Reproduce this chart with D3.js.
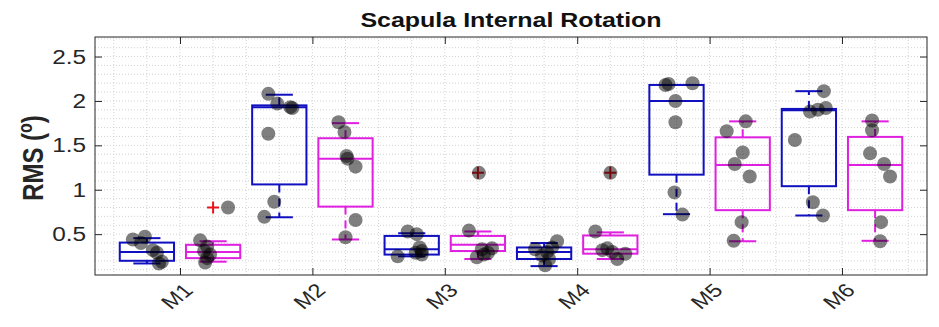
<!DOCTYPE html>
<html><head><meta charset="utf-8">
<script src="https://cdn.jsdelivr.net/npm/d3@7/dist/d3.min.js"></script>
<style>body{margin:0;background:#fff;}svg{display:block;font-family:Arial,"Liberation Sans",sans-serif;}</style>
</head><body><svg id="c" width="939" height="327"></svg>
<script>
const categories = ["M1","M2","M3","M4","M5","M6"];
const yTicks = [0.5, 1, 1.5, 2, 2.5];
const yTickLabels = ["0.5","1","1.5","2","2.5"];
const titleText = "Scapula Internal Rotation";

// Blue series box statistics
const blueQ1  = [0.20, 1.06, 0.27, 0.22, 1.17, 1.04];
const blueMed = [0.30, 1.93, 0.33, 0.30, 2.00, 1.895];
const blueQ3  = [0.405, 1.95, 0.48, 0.35, 2.18, 1.91];
const blueLo  = [0.17, 0.69, 0.25, 0.14, 0.725, 0.71];
const blueHi  = [0.455, 2.07, 0.51, 0.40, 2.18, 2.11];
const blueOut = [null, null, null, null, null, null];

// Magenta series box statistics
const magQ1  = [0.23, 0.81, 0.31, 0.28, 0.77, 0.77];
const magMed = [0.30, 1.35, 0.38, 0.33, 1.28, 1.28];
const magQ3  = [0.38, 1.58, 0.48, 0.485, 1.59, 1.595];
const magLo  = [0.19, 0.44, 0.22, 0.22, 0.42, 0.425];
const magHi  = [0.42, 1.75, 0.53, 0.52, 1.77, 1.77];
const magOut = [0.80, null, 1.19, 1.19, null, null];

// Individual subject values
const bluePts = [
  [0.47, 0.44, 0.40, 0.32, 0.29, 0.19, 0.17],
  [2.08, 1.97, 1.93, 1.92, 1.63, 0.865, 0.695],
  [0.53, 0.50, 0.35, 0.31, 0.29, 0.27, 0.25],
  [0.42, 0.35, 0.33, 0.30, 0.26, 0.22, 0.15],
  [2.20, 2.19, 2.18, 2.00, 1.76, 0.97, 0.72],
  [2.11, 1.92, 1.90, 1.88, 1.56, 0.86, 0.71]
];
const blueJit = [
  [-0.015, -0.106, -0.045, 0.045, 0.076, 0.113, 0.091],
  [-0.083, -0.015, 0.083, 0.098, -0.083, -0.038, -0.113],
  [-0.030, 0.038, 0.060, 0.076, 0.030, 0.076, -0.106],
  [0.098, 0.060, -0.068, 0.023, -0.015, 0.038, 0.008],
  [0.121, -0.060, -0.083, -0.008, -0.008, -0.015, 0.045],
  [0.113, 0.128, 0.068, 0.008, -0.106, 0.030, 0.106]
];
const magPts = [
  [0.80, 0.43, 0.36, 0.31, 0.27, 0.23, 0.18],
  [1.76, 1.65, 1.38, 1.35, 1.26, 0.66, 0.465],
  [1.19, 0.54, 0.34, 0.33, 0.29, 0.27, 0.24],
  [1.19, 0.53, 0.34, 0.32, 0.30, 0.28, 0.22],
  [1.77, 1.66, 1.42, 1.29, 1.15, 0.635, 0.425],
  [1.78, 1.67, 1.41, 1.29, 1.15, 0.635, 0.42]
];
const magJit = [
  [0.113, -0.098, -0.045, -0.068, -0.023, -0.045, -0.060],
  [-0.053, -0.008, 0.008, 0.015, 0.076, 0.076, 0.0],
  [0.008, -0.068, 0.106, 0.030, 0.076, 0.045, -0.008],
  [0.0, -0.113, -0.023, -0.060, 0.015, 0.113, 0.053],
  [0.023, -0.121, 0.0, -0.060, 0.053, -0.008, -0.068],
  [-0.023, -0.023, -0.038, 0.068, 0.113, 0.045, 0.038]
];

const W = 939, H = 327;
const m = {l:95, r:927, t:37, b:275};
const SX = 1.25; // horizontal stretch of the original figure's text
const svg = d3.select("#c");
const x = d3.scaleLinear().domain([0.358, 6.642]).range([m.l, m.r]);
const y = d3.scaleLinear().domain([0.04, 2.72]).range([m.b, m.t]);
const axisCol = "#262626";

// grid
const g = svg.append("g");
const xMinor = d3.range(0.5, 6.6, 0.25);
const yMinor = d3.range(0.1, 2.71, 0.1);
g.selectAll(".vx").data(xMinor).join("line")
  .attr("x1", d=>x(d)).attr("x2", d=>x(d)).attr("y1", m.t).attr("y2", m.b)
  .attr("stroke", "#c8c8c8").attr("stroke-width", 0.8).attr("stroke-dasharray", "1,2");
g.selectAll(".hy").data(yMinor).join("line")
  .attr("y1", d=>y(d)).attr("y2", d=>y(d)).attr("x1", m.l).attr("x2", m.r)
  .attr("stroke", "#c8c8c8").attr("stroke-width", 0.8).attr("stroke-dasharray", "1,2");

// axes frame with inward ticks
const ax = svg.append("g");
ax.append("rect").attr("x", m.l).attr("y", m.t).attr("width", m.r-m.l).attr("height", m.b-m.t)
  .attr("fill", "none").attr("stroke", axisCol).attr("stroke-width", 1);
const catIdx = categories.map((c,i)=>i+1);
ax.append("g").attr("transform", `translate(0,${m.b})`)
  .call(d3.axisBottom(x).tickValues(catIdx).tickSize(-7).tickFormat(""))
  .call(s=>{s.select(".domain").remove(); s.selectAll("line").attr("stroke", axisCol);});
ax.append("g").attr("transform", `translate(0,${m.t})`)
  .call(d3.axisTop(x).tickValues(catIdx).tickSize(-7).tickFormat(""))
  .call(s=>{s.select(".domain").remove(); s.selectAll("line").attr("stroke", axisCol);});
ax.append("g").attr("transform", `translate(${m.l},0)`)
  .call(d3.axisLeft(y).tickValues(yTicks).tickSize(-7).tickFormat(""))
  .call(s=>{s.select(".domain").remove(); s.selectAll("line").attr("stroke", axisCol);});
ax.append("g").attr("transform", `translate(${m.r},0)`)
  .call(d3.axisRight(y).tickValues(yTicks).tickSize(-7).tickFormat(""))
  .call(s=>{s.select(".domain").remove(); s.selectAll("line").attr("stroke", axisCol);});

// y tick labels
svg.append("g").selectAll("text").data(yTicks).join("text")
  .attr("transform", d=>`translate(${m.l-9},${y(d)}) scale(${SX},1)`)
  .attr("text-anchor", "end").attr("dy", "0.36em")
  .attr("font-size", 19.5).attr("fill", axisCol).text((d,i)=>yTickLabels[i]);

// x tick labels rotated
svg.append("g").selectAll("text").data(categories).join("text")
  .attr("transform", (d,i)=>`translate(${x(i+1)+10},${m.b+13}) scale(${SX},1) rotate(-45)`)
  .attr("text-anchor", "end").attr("dominant-baseline", "middle")
  .attr("font-size", 19).attr("fill", axisCol).text(d=>d);

// boxes
const halfW = 0.205;
function drawSeries(off, col, q1, med, q3, lo, hi, out) {
  const s = svg.append("g");
  categories.forEach((c,i)=>{
    const cx = i+1+off;
    const gg = s.append("g");
    gg.append("line").attr("x1", x(cx)).attr("x2", x(cx)).attr("y1", y(q3[i])).attr("y2", y(hi[i]))
      .attr("stroke", col).attr("stroke-width", 2).attr("stroke-dasharray", "8,6");
    gg.append("line").attr("x1", x(cx)).attr("x2", x(cx)).attr("y1", y(q1[i])).attr("y2", y(lo[i]))
      .attr("stroke", col).attr("stroke-width", 2).attr("stroke-dasharray", "8,6");
    [lo[i], hi[i]].forEach(v=>{
      gg.append("line").attr("x1", x(cx-halfW/2)).attr("x2", x(cx+halfW/2)).attr("y1", y(v)).attr("y2", y(v))
        .attr("stroke", col).attr("stroke-width", 2);
    });
    gg.append("rect").attr("x", x(cx-halfW)).attr("width", x(cx+halfW)-x(cx-halfW))
      .attr("y", y(q3[i])).attr("height", y(q1[i])-y(q3[i]))
      .attr("fill", "none").attr("stroke", col).attr("stroke-width", 2);
    gg.append("line").attr("x1", x(cx-halfW)).attr("x2", x(cx+halfW)).attr("y1", y(med[i])).attr("y2", y(med[i]))
      .attr("stroke", col).attr("stroke-width", 2);
    if (out[i] != null) {
      const ox = x(cx), oy = y(out[i]);
      gg.append("path").attr("d", `M${ox-6},${oy}H${ox+6}M${ox},${oy-6}V${oy+6}`)
        .attr("stroke", "#e8141c").attr("stroke-width", 2);
    }
  });
}
drawSeries(-0.25, "#1010c0", blueQ1, blueMed, blueQ3, blueLo, blueHi, blueOut);
drawSeries(0.25, "#e020e0", magQ1, magMed, magQ3, magLo, magHi, magOut);

// points
const ptsG = svg.append("g");
function drawPts(off, pts, jit) {
  pts.forEach((arr,i)=>{
    arr.forEach((v,j)=>{
      ptsG.append("circle").attr("cx", x(i+1+off+jit[i][j])).attr("cy", y(v)).attr("r", 7)
        .attr("fill", "#000").attr("fill-opacity", 0.5);
    });
  });
}
drawPts(-0.25, bluePts, blueJit);
drawPts(0.25, magPts, magJit);

// title
svg.append("text").attr("transform", `translate(${(m.l+m.r)/2},27) scale(${SX},1)`).attr("text-anchor", "middle")
  .attr("font-size", 20).attr("font-weight", "bold").attr("fill", "#111").text(titleText);

// y label
const yl = svg.append("text").attr("transform", `translate(43,${(m.t+m.b)/2 + 2}) scale(${SX},1) rotate(-90)`)
  .attr("text-anchor", "middle").attr("font-size", 24).attr("font-weight", "bold").attr("fill", "#262626");
yl.append("tspan").text("RMS (");
yl.append("tspan").attr("font-size", 16).attr("baseline-shift", "super").text("o");
yl.append("tspan").text(")");
</script></body></html>
